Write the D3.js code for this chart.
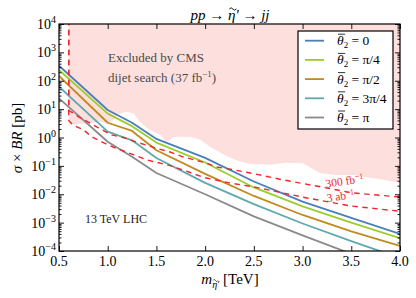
<!DOCTYPE html>
<html><head><meta charset="utf-8">
<script src="https://cdn.jsdelivr.net/npm/d3@7"></script>
<style>body{margin:0;background:#fff}svg{display:block}</style>
</head><body>
<svg id="c" width="416" height="298" font-family="'Liberation Serif', 'Times New Roman', 'DejaVu Serif', serif"></svg>
<script>
// ---- data (masses in TeV, cross sections as log10 of pb) ----
const masses = [0.5, 1.0, 1.25, 1.5, 2.0, 2.5, 3.0, 3.5, 4.0];
const theta0Log10   = [2.53, 0.97, 0.52, -0.05, -0.72, -1.55, -2.26, -2.83, -3.40];
const thetaPi4Log10 = [2.38, 0.84, 0.40, -0.18, -0.88, -1.76, -2.43, -3.00, -3.55];
const thetaPi2Log10 = [2.17, 0.52, 0.23, -0.45, -1.28, -2.06, -2.73, -3.31, -3.82];
const theta3Pi4Log10= [1.79, 0.21, -0.10, -0.72, -1.60, -2.35, -3.03, -3.65, -4.25];
const thetaPiLog10  = [1.38, -0.15, -0.68, -1.25, -2.00, -2.78, -3.45, -4.10, -4.80];
const seriesLabels = ["0", "π/4", "π/2", "3π/4", "π"];
const seriesColors = ["#4a7fbd", "#9ccc2e", "#c08a1e", "#5ea8b0", "#8a8a8a"];

const cmsMass  = [0.6,0.8,0.92,1.01,1.06,1.1,1.15,1.2,1.27,1.32,1.39,1.45,1.54,1.6,1.62,1.66,1.71,1.85,1.95,2.05,2.18,2.31,2.46,2.67,2.82,3.0,3.18,3.33,3.52,3.69,3.83,4.0];
const cmsLog10 = [0.45,0.5,0.55,0.51,0.62,0.8,0.87,0.9,0.85,0.58,0.37,0.23,0.10,-0.15,-0.12,-0.01,0.03,0.02,-0.08,-0.33,-0.58,-0.79,-0.93,-0.96,-0.89,-0.91,-1.25,-1.32,-1.32,-1.42,-1.49,-1.60];

const reach300Mass  = [0.6, 0.6, 0.65, 0.7, 0.76, 0.9, 1.04, 1.17, 1.22, 1.52, 1.64, 1.77, 2.0, 2.12, 2.26, 2.48, 2.78, 3.0, 3.51, 4.0];
const reach300Log10 = [4.5, 0.95, 0.85, 0.73, 0.62, 0.35, 0.09, -0.01, -0.08, -0.40, -0.51, -0.68, -0.89, -1.04, -1.12, -1.26, -1.48, -1.62, -1.95, -2.10];
const reach3Mass  = [0.6, 0.6, 0.64, 0.75, 0.84, 0.96, 1.1, 1.27, 1.40, 1.64, 2.0, 2.25, 2.5, 3.0, 3.49, 4.0];
const reach3Log10 = [4.5, 0.6, 0.45, 0.27, 0.02, -0.19, -0.40, -0.61, -0.79, -0.99, -1.42, -1.60, -1.74, -2.10, -2.41, -2.60];

const xTicks = [0.5, 1.0, 1.5, 2.0, 2.5, 3.0, 3.5, 4.0];
const yDecades = [-4, -3, -2, -1, 0, 1, 2, 3, 4];

// ---- layout ----
const L = 59, R = 400, T = 24, B = 251;
const FONT = "'Liberation Serif', 'Times New Roman', 'DejaVu Serif', serif";
const svg = d3.select("#c");
const x = d3.scaleLinear().domain([0.5, 4.0]).range([L, R]);
const y = d3.scaleLog().domain([1e-4, 1e4]).range([B, T]);
const P = v => Math.pow(10, v);
const txt = (sel) => sel.append("text").attr("font-family", FONT);

svg.append("clipPath").attr("id", "clip").append("rect")
  .attr("x", L).attr("y", T).attr("width", R - L).attr("height", B - T);
const g = svg.append("g").attr("clip-path", "url(#clip)");

// excluded region
const area = d3.area().x(d => x(d[0])).y0(y(1e5)).y1(d => y(P(d[1])));
g.append("path").datum(cmsMass.map((m, i) => [m, cmsLog10[i]]))
  .attr("d", area).attr("fill", "#fde0de");

// curves
const line = d3.line().x(d => x(d[0])).y(d => y(P(d[1])));
const all = [theta0Log10, thetaPi4Log10, thetaPi2Log10, theta3Pi4Log10, thetaPiLog10];
all.forEach((s, k) => {
  g.append("path").datum(masses.map((m, i) => [m, s[i]]))
    .attr("d", line).attr("fill", "none").attr("stroke", seriesColors[k])
    .attr("stroke-width", 1.8).attr("stroke-linejoin", "round");
});
// reach curves
[[reach300Mass, reach300Log10], [reach3Mass, reach3Log10]].forEach(([ms, vs]) => {
  g.append("path").datum(ms.map((m, i) => [m, vs[i]]))
    .attr("d", line).attr("fill", "none").attr("stroke", "#f0282e")
    .attr("stroke-width", 1.4).attr("stroke-dasharray", "5.5,4.5");
});

// axes
const minor = [];
for (let e = -4; e < 4; e++) for (let k = 2; k <= 9; k++) minor.push(k * P(e));
function ax(gen, tx, ty) {
  const a = svg.append("g").attr("transform", `translate(${tx},${ty})`).call(gen);
  a.select(".domain").remove();
  a.selectAll("line").attr("stroke", "#000").attr("stroke-width", 0.9);
  return a;
}
ax(d3.axisBottom(x).tickValues(xTicks).tickSize(-5).tickFormat(""), 0, B);
ax(d3.axisTop(x).tickValues(xTicks).tickSize(-5).tickFormat(""), 0, T);
ax(d3.axisLeft(y).tickValues(yDecades.map(P)).tickSize(-5).tickFormat(""), L, 0);
ax(d3.axisRight(y).tickValues(yDecades.map(P)).tickSize(-5).tickFormat(""), R, 0);
ax(d3.axisLeft(y).tickValues(minor).tickSize(-2.5).tickFormat(""), L, 0);
ax(d3.axisRight(y).tickValues(minor).tickSize(-2.5).tickFormat(""), R, 0);
svg.append("rect").attr("x", L).attr("y", T).attr("width", R - L).attr("height", B - T)
  .attr("fill", "none").attr("stroke", "#000").attr("stroke-width", 1.2);

// tick labels
xTicks.forEach(t => txt(svg).attr("x", x(t)).attr("y", 265.5)
  .attr("text-anchor", "middle").attr("font-size", 14).text(t.toFixed(1)));
yDecades.forEach(e => {
  const t = txt(svg).attr("x", 56).attr("y", y(P(e)) + 5)
    .attr("text-anchor", "end").attr("font-size", 14);
  t.append("tspan").text("10");
  t.append("tspan").attr("dy", -6).attr("font-size", 10).text(e < 0 ? "−" + (-e) : e);
});

// tilde drawn above a glyph of a text element
function tildeOver(textSel, charIndex, lift, size) {
  const n = textSel.node();
  const s = n.getStartPositionOfChar(charIndex), e = n.getEndPositionOfChar(charIndex);
  const cx = (s.x + e.x) / 2 + size * 0.08, top = s.y - lift, w = (e.x - s.x) * 0.95;
  svg.append("path")
    .attr("d", `M${cx - w / 2},${top + 1} q${w / 4},-2.4 ${w / 2},0 t${w / 2},0`)
    .attr("fill", "none").attr("stroke", "#000").attr("stroke-width", size > 12 ? 0.9 : 0.7);
}

// title
const ti = txt(svg).attr("x", 230).attr("y", 19.5).attr("text-anchor", "middle").attr("font-size", 15);
ti.append("tspan").attr("font-style", "italic").text("pp");
ti.append("tspan").text(" → ");
ti.append("tspan").attr("font-style", "italic").text("η′");
ti.append("tspan").text(" → ");
ti.append("tspan").attr("font-style", "italic").text("jj");
tildeOver(ti, 5, 11.5, 15);

// x label
const xl = txt(svg).attr("x", 230).attr("y", 284).attr("text-anchor", "middle").attr("font-size", 15);
xl.append("tspan").attr("font-style", "italic").text("m");
xl.append("tspan").attr("font-style", "italic").attr("font-size", 10).attr("dy", 3.5).text("η′");
xl.append("tspan").attr("dy", -3.5).text(" [TeV]");
tildeOver(xl, 1, 8, 10);

// y label
const yl = txt(svg).attr("transform", "translate(22,138) rotate(-90)")
  .attr("text-anchor", "middle").attr("font-size", 15);
yl.append("tspan").attr("font-style", "italic").text("σ");
yl.append("tspan").text(" × ");
yl.append("tspan").attr("font-style", "italic").text("BR");
yl.append("tspan").text(" [pb]");

// annotations
txt(svg).attr("x", 108).attr("y", 62).attr("font-size", 13).attr("fill", "#4a4a4a").text("Excluded by CMS");
const d2 = txt(svg).attr("x", 108).attr("y", 82).attr("font-size", 13).attr("fill", "#4a4a4a");
d2.append("tspan").text("dijet search (37 fb");
d2.append("tspan").attr("dy", -5).attr("font-size", 9).text("−1");
d2.append("tspan").attr("dy", 5).text(")");
txt(svg).attr("x", 85).attr("y", 223).attr("font-size", 12).attr("fill", "#222").text("13 TeV LHC");

function redLabel(cx, cy, main, ang) {
  const t = txt(svg).attr("transform", `translate(${cx},${cy}) rotate(${ang})`)
    .attr("text-anchor", "middle").attr("font-size", 11.5).attr("fill", "#f0282e");
  t.append("tspan").text(main);
  t.append("tspan").attr("dy", -4).attr("font-size", 8).text("−1");
}
redLabel(345, 185, "300 fb", -8);
redLabel(341, 200, "3 ab", -8);

// legend
svg.append("rect").attr("x", 298).attr("y", 31).attr("width", 95).attr("height", 98)
  .attr("fill", "#fff").attr("stroke", "#000").attr("stroke-width", 1.2);
seriesLabels.forEach((lab, i) => {
  const yy = 40.7 + i * 19.2;
  svg.append("line").attr("x1", 305).attr("x2", 324).attr("y1", yy).attr("y2", yy)
    .attr("stroke", seriesColors[i]).attr("stroke-width", 1.8);
  const t = txt(svg).attr("x", 337).attr("y", yy + 4.5).attr("font-size", 13.5);
  t.append("tspan").attr("font-style", "italic").text("θ");
  t.append("tspan").attr("dy", 3).attr("font-size", 9).text("2");
  t.append("tspan").attr("dy", -3).text(" = ");
  t.append("tspan").text(lab);
  const n = t.node();
  const s = n.getStartPositionOfChar(0), e = n.getEndPositionOfChar(0);
  svg.append("line").attr("x1", s.x + 1).attr("x2", e.x + 1.5)
    .attr("y1", yy - 6.5).attr("y2", yy - 6.5).attr("stroke", "#000").attr("stroke-width", 0.8);
});
</script>
</body></html>
